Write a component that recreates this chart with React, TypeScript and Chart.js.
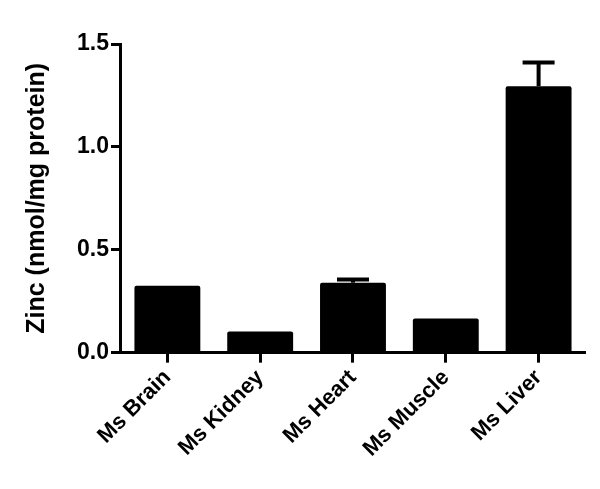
import React, { useEffect, useRef } from "react";
import { Chart, registerables } from "chart.js";

Chart.register(...registerables);

const categories = ["Ms Brain", "Ms Kidney", "Ms Heart", "Ms Muscle", "Ms Liver"];
const zincValues = [0.325, 0.103, 0.34, 0.166, 1.295];
const zincErrors = [0.004, 0.002, 0.016, 0.003, 0.115];
const yTicks = [0, 0.5, 1.0, 1.5];

const FONT = "'Liberation Sans', Arial, sans-serif";

const errorBarPlugin = {
  id: "errorBars",
  afterDatasetsDraw(chart: any) {
    const ctx = chart.ctx;
    const yScale = chart.scales.y;
    const meta = chart.getDatasetMeta(0);
    ctx.save();
    ctx.strokeStyle = "#000";
    ctx.lineWidth = 4;
    meta.data.forEach((bar: any, i: number) => {
      const v = zincValues[i];
      const e = zincErrors[i];
      const x = bar.x;
      const yTop = yScale.getPixelForValue(v);
      const yErr = yScale.getPixelForValue(v + e);
      if (yTop - yErr < 1) return;
      ctx.beginPath();
      ctx.moveTo(x, yTop);
      ctx.lineTo(x, yErr);
      ctx.stroke();
      ctx.beginPath();
      ctx.moveTo(x - 16, yErr);
      ctx.lineTo(x + 16, yErr);
      ctx.stroke();
    });
    ctx.restore();
  },
};

export default function App() {
  const ref = useRef<HTMLCanvasElement | null>(null);
  useEffect(() => {
    if (!ref.current) return;
    const chart = new Chart(ref.current, {
      type: "bar",
      data: {
        labels: categories,
        datasets: [
          {
            data: zincValues,
            backgroundColor: "#000",
            borderWidth: 0,
            borderRadius: 2,
            barPercentage: 0.71,
            categoryPercentage: 1,
          },
        ],
      },
      options: {
        animation: false,
        responsive: false,
        maintainAspectRatio: false,
        layout: { padding: { top: 44, right: 15, left: 22, bottom: 25 } },
        plugins: {
          legend: { display: false },
          tooltip: { enabled: false },
        },
        scales: {
          x: {
            offset: true,
            grid: {
              display: true,
              offset: false,
              drawOnChartArea: false,
              drawTicks: true,
              tickLength: 10,
              tickWidth: 3,
              tickColor: "#000",
              color: "#000",
            },
            border: { display: true, color: "#000", width: 3 },
            ticks: {
              color: "#000",
              font: { family: FONT, size: 22, weight: "bold" },
              minRotation: 45,
              maxRotation: 45,
              padding: 2,
            },
          },
          y: {
            min: 0,
            max: 1.5,
            afterBuildTicks(axis: any) {
              axis.ticks = yTicks.map((v) => ({ value: v }));
            },
            grid: {
              display: true,
              drawOnChartArea: false,
              drawTicks: true,
              tickLength: 10,
              tickWidth: 3,
              tickColor: "#000",
              color: "#000",
            },
            border: { display: true, color: "#000", width: 3 },
            ticks: {
              color: "#000",
              font: { family: FONT, size: 23, weight: "bold" },
              padding: 2,
              callback: (v: any) => Number(v).toFixed(1),
            },
            title: {
              display: true,
              text: "Zinc (nmol/mg protein)",
              color: "#000",
              font: { family: FONT, size: 25, weight: "bold" },
              padding: { top: 0, bottom: 23 },
            },
          },
        },
      },
      plugins: [errorBarPlugin],
    });
    return () => chart.destroy();
  }, []);
  return (
    <div style={{ position: "fixed", left: 0, top: 0, width: 600, height: 489, background: "#fff" }}>
      <canvas ref={ref} width={600} height={489} style={{ display: "block" }} />
    </div>
  );
}
